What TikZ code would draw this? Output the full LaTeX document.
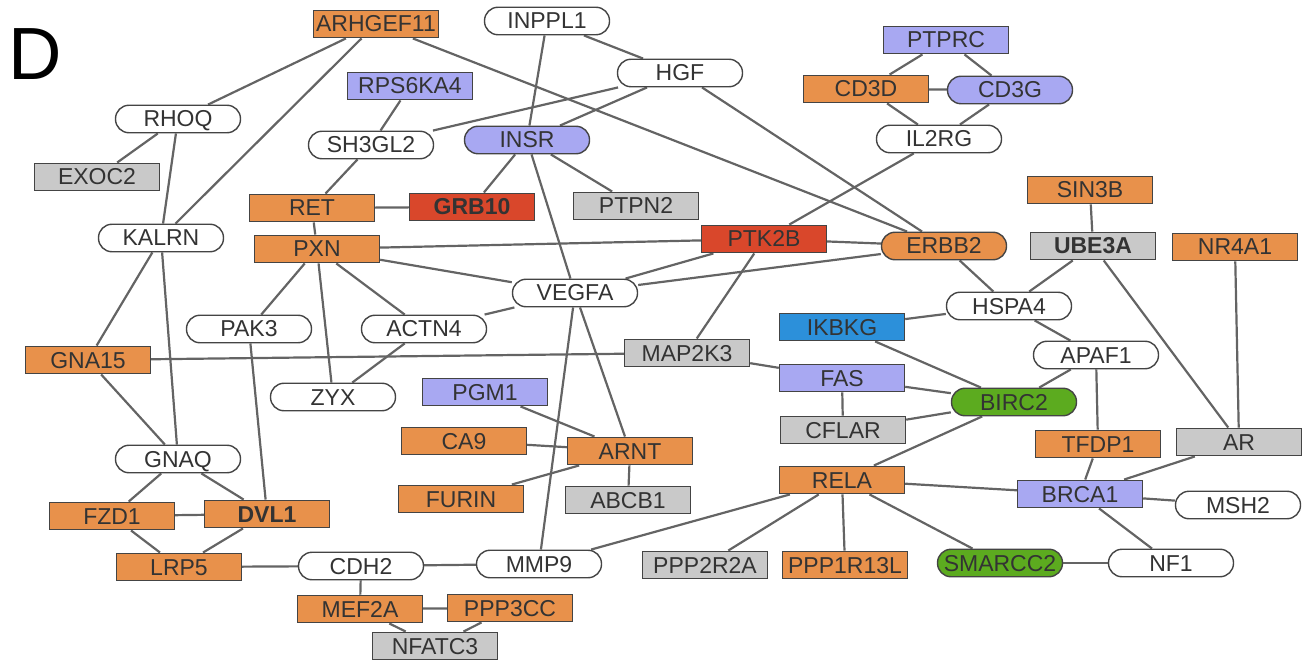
\documentclass[tikz,border=0pt]{standalone}
\usepackage{fontspec}
\setmainfont{Liberation Sans}
\usetikzlibrary{backgrounds}
\definecolor{corange}{HTML}{E8914B}
\definecolor{cpurple}{HTML}{A8A8F2}
\definecolor{cred}{HTML}{D9472B}
\definecolor{cgray}{HTML}{C9C9C9}
\definecolor{cblue}{HTML}{2C90DA}
\definecolor{cgreen}{HTML}{5CAB1F}
\definecolor{bordc}{HTML}{444444}
\definecolor{edgec}{HTML}{646464}
\definecolor{textc}{HTML}{333333}
\begin{document}
\begin{tikzpicture}[x=1pt,y=-1pt,
  gn/.style={draw=bordc, line width=1.4pt, minimum width=125pt, minimum height=27.5pt,
    inner sep=0pt, text height=16pt, text depth=0pt, font=\fontsize{23}{23}\selectfont, text=textc},
  sq/.style={gn},
  pill/.style={gn, rounded corners=13.5pt},
  wh/.style={fill=white},
  og/.style={fill=corange},
  pu/.style={fill=cpurple},
  rd/.style={fill=cred},
  gy/.style={fill=cgray},
  bl/.style={fill=cblue},
  gr/.style={fill=cgreen},
  bf/.style={font=\fontsize{23}{23}\selectfont\bfseries},
  edge/.style={draw=edgec, line width=2.2pt}]
\useasboundingbox (0,0) rectangle (1302,663);
\node[font=\fontsize{74}{74}\selectfont, anchor=center] (lbl) at (35,54) {D};

\node[sq,og] (ARHGEF11) at (376,24) {ARHGEF11};
\node[pill,wh] (INPPL1) at (547,21) {INPPL1};
\node[pill,wh] (HGF) at (680,73) {HGF};
\node[sq,pu] (PTPRC) at (946,40) {PTPRC};
\node[sq,og] (CD3D) at (866,89) {CD3D};
\node[pill,pu] (CD3G) at (1010,90) {CD3G};
\node[pill,wh] (IL2RG) at (939,139) {IL2RG};
\node[sq,pu] (RPS6KA4) at (410,86) {RPS6KA4};
\node[pill,wh] (RHOQ) at (178,119) {RHOQ};
\node[pill,wh] (SH3GL2) at (371,145) {SH3GL2};
\node[pill,pu] (INSR) at (527,140) {INSR};
\node[sq,gy] (EXOC2) at (97,177) {EXOC2};
\node[sq,og] (RET) at (312,208) {RET};
\node[sq,rd,bf] (GRB10) at (472,207) {GRB10};
\node[sq,gy] (PTPN2) at (636,206) {PTPN2};
\node[pill,wh] (KALRN) at (161,238) {KALRN};
\node[sq,og] (PXN) at (317,249) {PXN};
\node[sq,rd] (PTK2B) at (764,239) {PTK2B};
\node[pill,og] (ERBB2) at (944,246) {ERBB2};
\node[sq,og] (SIN3B) at (1090,190) {SIN3B};
\node[sq,gy,bf] (UBE3A) at (1093,246) {UBE3A};
\node[sq,og] (NR4A1) at (1235,247) {NR4A1};
\node[pill,wh] (VEGFA) at (575,293) {VEGFA};
\node[pill,wh] (HSPA4) at (1009,306) {HSPA4};
\node[sq,bl] (IKBKG) at (842,327) {IKBKG};
\node[pill,wh] (PAK3) at (249,329) {PAK3};
\node[pill,wh] (ACTN4) at (424,329) {ACTN4};
\node[sq,og] (GNA15) at (88,360) {GNA15};
\node[sq,gy] (MAP2K3) at (687,353) {MAP2K3};
\node[pill,wh] (APAF1) at (1096,355) {APAF1};
\node[sq,pu] (FAS) at (842,378) {FAS};
\node[pill,wh] (ZYX) at (333,397) {ZYX};
\node[sq,pu] (PGM1) at (485,392) {PGM1};
\node[pill,gr] (BIRC2) at (1014,402) {BIRC2};
\node[sq,og] (CA9) at (464,441) {CA9};
\node[sq,og] (ARNT) at (630,451) {ARNT};
\node[sq,gy] (CFLAR) at (843,430) {CFLAR};
\node[sq,og] (TFDP1) at (1098,444) {TFDP1};
\node[sq,gy] (AR) at (1239,442) {AR};
\node[pill,wh] (GNAQ) at (178,459) {GNAQ};
\node[sq,og] (RELA) at (842,480) {RELA};
\node[sq,og] (FURIN) at (461,499) {FURIN};
\node[sq,gy] (ABCB1) at (628,500) {ABCB1};
\node[sq,pu] (BRCA1) at (1080,494) {BRCA1};
\node[pill,wh] (MSH2) at (1238,505) {MSH2};
\node[sq,og] (FZD1) at (112,516) {FZD1};
\node[sq,og,bf] (DVL1) at (267,514) {DVL1};
\node[sq,og] (LRP5) at (179,567) {LRP5};
\node[pill,wh] (CDH2) at (361,566) {CDH2};
\node[pill,wh] (MMP9) at (539,564) {MMP9};
\node[sq,gy] (PPP2R2A) at (705,565) {PPP2R2A};
\node[sq,og] (PPP1R13L) at (845,565) {PPP1R13L};
\node[pill,gr] (SMARCC2) at (1000,563) {SMARCC2};
\node[pill,wh] (NF1) at (1171,563) {NF1};
\node[sq,og] (MEF2A) at (360,609) {MEF2A};
\node[sq,og] (PPP3CC) at (510,608) {PPP3CC};
\node[sq,gy] (NFATC3) at (435,646) {NFATC3};

\begin{pgfonlayer}{background}
\foreach \a/\b in {ARHGEF11/RHOQ, ARHGEF11/KALRN, ARHGEF11/ERBB2, INPPL1/HGF, INPPL1/INSR,
  HGF/SH3GL2, HGF/INSR, HGF/ERBB2, RPS6KA4/SH3GL2, SH3GL2/RET, RHOQ/EXOC2, RHOQ/KALRN,
  KALRN/GNAQ, KALRN/GNA15, GNA15/GNAQ, GNA15/MAP2K3, GNAQ/FZD1, GNAQ/DVL1, FZD1/DVL1,
  FZD1/LRP5, DVL1/LRP5, PAK3/DVL1, LRP5/CDH2, CDH2/MMP9, CDH2/MEF2A, MEF2A/PPP3CC,
  MEF2A/NFATC3, PPP3CC/NFATC3, MMP9/VEGFA, MMP9/RELA, VEGFA/ARNT, INSR/VEGFA, INSR/GRB10,
  INSR/PTPN2, RET/GRB10, RET/PXN, PXN/PTK2B, PXN/VEGFA, PXN/PAK3, PXN/ZYX, PXN/ACTN4,
  ACTN4/VEGFA, ACTN4/ZYX, PTK2B/ERBB2, PTK2B/VEGFA, PTK2B/MAP2K3, ERBB2/VEGFA, ERBB2/HSPA4,
  IL2RG/PTK2B, IL2RG/CD3D, IL2RG/CD3G, PTPRC/CD3D, PTPRC/CD3G, CD3D/CD3G, SIN3B/UBE3A,
  UBE3A/HSPA4, UBE3A/AR, NR4A1/AR, HSPA4/IKBKG, HSPA4/APAF1, IKBKG/BIRC2, APAF1/BIRC2,
  APAF1/TFDP1, MAP2K3/FAS, FAS/BIRC2, FAS/CFLAR, CFLAR/BIRC2, BIRC2/RELA, TFDP1/BRCA1,
  AR/BRCA1, RELA/BRCA1, RELA/PPP2R2A, RELA/PPP1R13L, RELA/SMARCC2, BRCA1/MSH2, BRCA1/NF1,
  SMARCC2/NF1, PGM1/ARNT, CA9/ARNT, FURIN/ARNT, ARNT/ABCB1}
  \draw[edge] (\a) -- (\b);
\end{pgfonlayer}
\end{tikzpicture}
\end{document}
